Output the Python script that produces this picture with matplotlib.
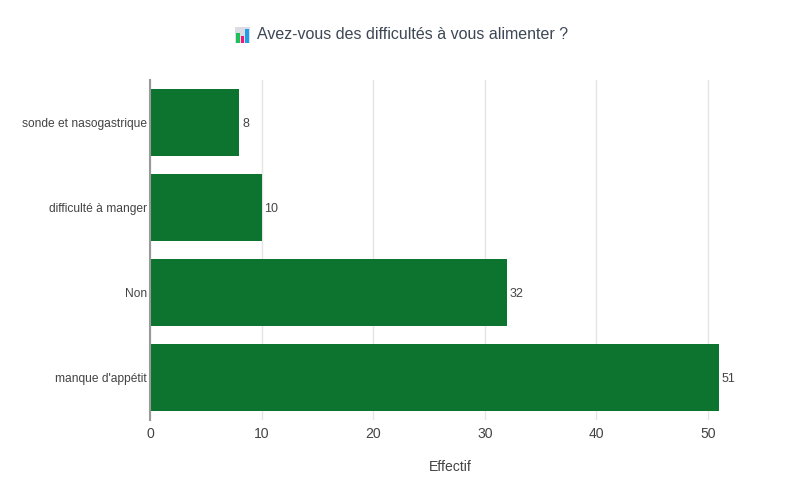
import matplotlib
matplotlib.use("Agg")
import matplotlib.pyplot as plt
from matplotlib.patches import Rectangle

categories = ["manque d'appétit", "Non", "difficulté à manger", "sonde et nasogastrique"]
values = [51, 32, 10, 8]
xticks = [0, 10, 20, 30, 40, 50]
title = "Avez-vous des difficultés à vous alimenter ?"
xlabel = "Effectif"

plt.rcParams['font.family'] = ['Liberation Sans', 'DejaVu Sans']
px = 72 / 100

fig = plt.figure(figsize=(8, 5), dpi=100)
ax = fig.add_axes([150 / 800, 80 / 500, 600 / 800, 340 / 500])

bar_color = "#0c742e"
ax.barh(range(len(categories)), values, height=0.79, color=bar_color, zorder=3)
for i, v in enumerate(values):
    ax.text(v + 0.25, i, str(v), va='center_baseline', ha='left', fontsize=12.5 * px, color='#444444')

ax.set_xlim(0, 53.76)
ax.set_ylim(-0.5, len(categories) - 0.5)
ax.set_yticks(range(len(categories)))
ax.set_yticklabels(categories, fontsize=12 * px, color='#444444')
ax.set_xticks(xticks)
ax.set_xticklabels([str(t) for t in xticks], fontsize=14 * px, color='#444444')
ax.tick_params(axis='y', length=0, pad=2)
ax.tick_params(axis='x', length=0, pad=5)
ax.grid(axis='x', color='#e5e5e5', linewidth=1, zorder=0)
for s in ['top', 'right', 'bottom']:
    ax.spines[s].set_visible(False)
ax.spines['left'].set_color('#999999')
ax.spines['left'].set_linewidth(1.5)
ax.spines['left'].set_zorder(4)
ax.set_xlabel(xlabel, fontsize=14 * px, color='#444444', labelpad=14)

# title with small chart icon
fig.text(257 / 800, 1 - 34 / 500, title, fontsize=16 * px, color='#3d4756', ha='left', va='center')
ix, iy, iw, ih = 235 / 800, 1 - 43 / 500, 15 / 800, 16 / 500
fig.patches.append(Rectangle((ix, iy), iw, ih, transform=fig.transFigure, facecolor='#dcdce4', edgecolor='none'))
bw = iw / 4.0
fig.patches.append(Rectangle((ix + 0.35 * bw, iy), bw, ih * 0.6, transform=fig.transFigure, facecolor='#1fbf5a', edgecolor='none'))
fig.patches.append(Rectangle((ix + 1.5 * bw, iy), bw, ih * 0.45, transform=fig.transFigure, facecolor='#f0167a', edgecolor='none'))
fig.patches.append(Rectangle((ix + 2.65 * bw, iy), bw, ih * 0.85, transform=fig.transFigure, facecolor='#1e9fe8', edgecolor='none'))

fig.savefig("out.png", dpi=100)
